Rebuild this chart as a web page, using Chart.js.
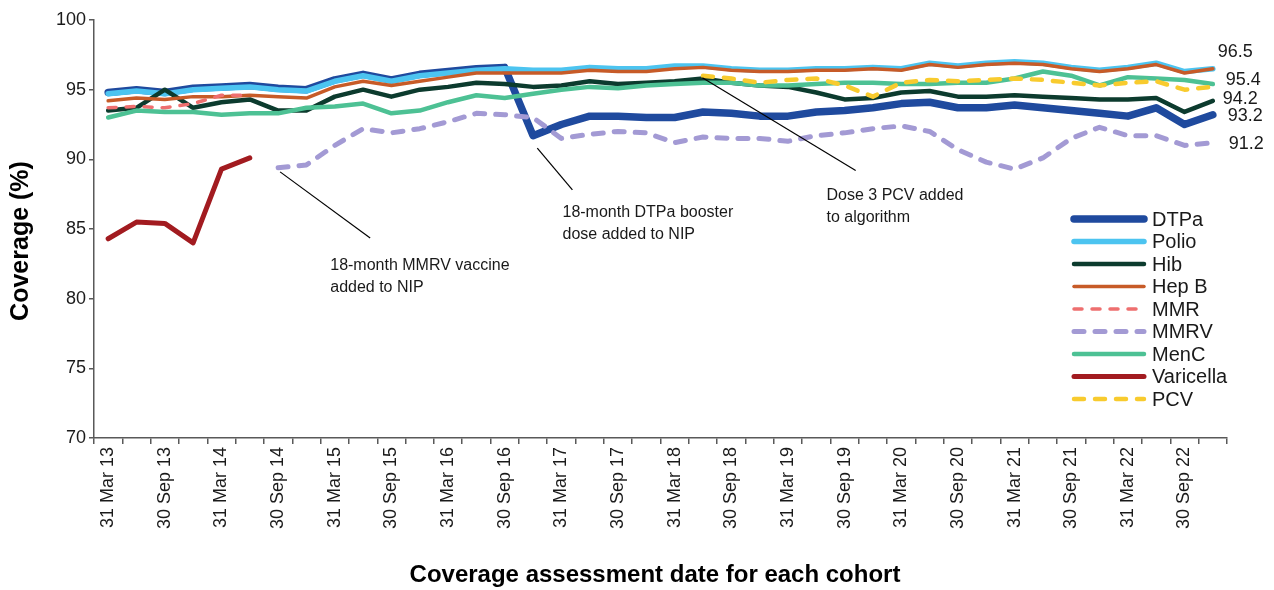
<!DOCTYPE html>
<html>
<head>
<meta charset="utf-8">
<script src="https://cdn.jsdelivr.net/npm/chart.js@4.4.1/dist/chart.umd.min.js"></script>
<style>
    html, body { margin: 0; padding: 0; background: #ffffff; }
    #chart { display: block; }
</style>
</head>
<body>
<canvas id="chart" width="1274" height="590"></canvas>
<script>
const quarters = [
    "31 Mar 13", "30 Jun 13", "30 Sep 13", "31 Dec 13",
    "31 Mar 14", "30 Jun 14", "30 Sep 14", "31 Dec 14",
    "31 Mar 15", "30 Jun 15", "30 Sep 15", "31 Dec 15",
    "31 Mar 16", "30 Jun 16", "30 Sep 16", "31 Dec 16",
    "31 Mar 17", "30 Jun 17", "30 Sep 17", "31 Dec 17",
    "31 Mar 18", "30 Jun 18", "30 Sep 18", "31 Dec 18",
    "31 Mar 19", "30 Jun 19", "30 Sep 19", "31 Dec 19",
    "31 Mar 20", "30 Jun 20", "30 Sep 20", "31 Dec 20",
    "31 Mar 21", "30 Jun 21", "30 Sep 21", "31 Dec 21",
    "31 Mar 22", "30 Jun 22", "30 Sep 22", "31 Dec 22"
];

const dtpa = [94.8, 95.0, 94.8, 95.1, 95.2, 95.3, 95.1, 95.0, 95.7, 96.1,
              95.7, 96.1, 96.3, 96.5, 96.6, 91.7, 92.5, 93.1, 93.1, 93.0,
              93.0, 93.4, 93.3, 93.1, 93.1, 93.4, 93.5, 93.7, 94.0, 94.1,
              93.7, 93.7, 93.9, 93.7, 93.5, 93.3, 93.1, 93.7, 92.5, 93.2];

const polio = [94.7, 94.9, 94.7, 95.0, 95.1, 95.2, 95.0, 94.9, 95.6, 96.0,
               95.6, 96.0, 96.2, 96.4, 96.5, 96.4, 96.4, 96.6, 96.5, 96.5,
               96.7, 96.7, 96.5, 96.4, 96.4, 96.5, 96.5, 96.6, 96.5, 96.9,
               96.7, 96.9, 97.0, 96.9, 96.6, 96.4, 96.6, 96.9, 96.3, 96.5];

const hib = [93.5, 93.7, 95.0, 93.7, 94.1, 94.3, 93.5, 93.5, 94.5, 95.0,
             94.5, 95.0, 95.2, 95.5, 95.4, 95.2, 95.3, 95.6, 95.4, 95.5,
             95.6, 95.8, 95.5, 95.3, 95.2, 94.8, 94.3, 94.4, 94.8, 94.9,
             94.5, 94.5, 94.6, 94.5, 94.4, 94.3, 94.3, 94.4, 93.4, 94.2];

const hepB = [94.2, 94.4, 94.3, 94.5, 94.5, 94.6, 94.5, 94.4, 95.2, 95.6,
              95.3, 95.6, 95.9, 96.2, 96.2, 96.2, 96.2, 96.4, 96.3, 96.3,
              96.5, 96.6, 96.4, 96.3, 96.3, 96.4, 96.4, 96.5, 96.4, 96.8,
              96.6, 96.8, 96.9, 96.8, 96.5, 96.3, 96.5, 96.8, 96.2, 96.5];

const mmr = [93.7, 93.8, 93.7, 94.0, 94.6, 94.6, null, null, null, null,
             null, null, null, null, null, null, null, null, null, null,
             null, null, null, null, null, null, null, null, null, null,
             null, null, null, null, null, null, null, null, null, null];

const mmrv = [null, null, null, null, null, null, 89.4, 89.6, 91.0, 92.2,
              91.9, 92.2, 92.7, 93.3, 93.2, 93.0, 91.5, 91.8, 92.0, 91.9,
              91.2, 91.6, 91.5, 91.5, 91.3, 91.7, 91.9, 92.2, 92.4, 92.0,
              90.7, 89.8, 89.3, 90.1, 91.5, 92.3, 91.7, 91.7, 91.0, 91.2];

const menC = [93.0, 93.5, 93.4, 93.4, 93.2, 93.3, 93.3, 93.7, 93.8, 94.0,
              93.3, 93.5, 94.1, 94.6, 94.4, 94.7, 95.0, 95.2, 95.1, 95.3,
              95.4, 95.5, 95.5, 95.3, 95.3, 95.4, 95.5, 95.5, 95.4, 95.4,
              95.5, 95.5, 95.8, 96.3, 96.0, 95.3, 95.9, 95.8, 95.7, 95.4];

const varicella = [84.3, 85.5, 85.4, 84.0, 89.3, 90.1, null, null, null, null,
                   null, null, null, null, null, null, null, null, null, null,
                   null, null, null, null, null, null, null, null, null, null,
                   null, null, null, null, null, null, null, null, null, null];

const pcv = [null, null, null, null, null, null, null, null, null, null,
             null, null, null, null, null, null, null, null, null, null,
             null, 96.0, 95.8, 95.5, 95.7, 95.8, 95.3, 94.5, 95.5, 95.7,
             95.6, 95.7, 95.8, 95.7, 95.5, 95.3, 95.5, 95.6, 95.0, 95.2];

const yTicks = [70, 75, 80, 85, 90, 95, 100];

const FONT = "'Liberation Sans', Arial, sans-serif";

const series = [
    { label: "DTPa",      data: dtpa,      color: "#1f4a9e", width: 7.5, dash: [] },
    { label: "Polio",     data: polio,     color: "#4cc4f0", width: 5.5, dash: [] },
    { label: "Hib",       data: hib,       color: "#0c3b2e", width: 4.5, dash: [] },
    { label: "Hep B",     data: hepB,      color: "#c75b28", width: 3.5, dash: [] },
    { label: "MMR",       data: mmr,       color: "#ee6f6f", width: 3.5, dash: [8, 10] },
    { label: "MMRV",      data: mmrv,      color: "#a39ad4", width: 5,   dash: [10, 11] },
    { label: "MenC",      data: menC,      color: "#4dc194", width: 4.5, dash: [] },
    { label: "Varicella", data: varicella, color: "#a21b20", width: 5,   dash: [] },
    { label: "PCV",       data: pcv,       color: "#f8cb2e", width: 4.5, dash: [10, 11] }
];

// value labels at the right end of the lines: series index, x/y nudge in px
const endLabels = [
    { series: 3, dx: 5,  dy: -17 },
    { series: 6, dx: 13, dy: -4 },
    { series: 2, dx: 10, dy: -2 },
    { series: 0, dx: 15, dy: 1 },
    { series: 5, dx: 16, dy: 1 }
];

// callouts, placed in axis units (category index, coverage %)
const notes = [
    { lines: ["18-month MMRV vaccine", "added to NIP"],
      from: [6.07, 89.1], to: [9.25, 84.35], text: [7.84, 82.4] },
    { lines: ["18-month DTPa booster", "dose added to NIP"],
      from: [15.15, 90.8], to: [16.39, 87.8], text: [16.04, 86.15] },
    { lines: ["Dose 3 PCV added", "to algorithm"],
      from: [20.98, 95.85], to: [26.39, 89.2], text: [25.36, 87.4] }
];

const notesPlugin = {
    id: "notes",
    afterDatasetsDraw(chart) {
        const { ctx, scales } = chart;
        const x = scales.x;
        const y = scales.y;

        ctx.save();

        // axis titles
        ctx.fillStyle = "#000000";
        ctx.textAlign = "center";
        ctx.textBaseline = "middle";
        ctx.font = "bold 24px " + FONT;
        ctx.fillText("Coverage assessment date for each cohort", 655, 575);
        ctx.save();
        ctx.translate(21, 241);
        ctx.rotate(-Math.PI / 2);
        ctx.font = "bold 25px " + FONT;
        ctx.fillText("Coverage (%)", 0, 0);
        ctx.restore();

        // leader lines and callout text
        ctx.strokeStyle = "#000000";
        ctx.lineWidth = 1.2;
        ctx.fillStyle = "#1a1a1a";
        ctx.font = "16px " + FONT;
        ctx.textAlign = "left";
        notes.forEach(n => {
            ctx.beginPath();
            ctx.moveTo(x.getPixelForValue(n.from[0]), y.getPixelForValue(n.from[1]));
            ctx.lineTo(x.getPixelForValue(n.to[0]), y.getPixelForValue(n.to[1]));
            ctx.stroke();
            const tx = x.getPixelForValue(n.text[0]);
            const ty = y.getPixelForValue(n.text[1]);
            n.lines.forEach((line, i) => ctx.fillText(line, tx, ty + i * 22));
        });

        // last values
        ctx.font = "18px " + FONT;
        const last = quarters.length - 1;
        endLabels.forEach(l => {
            const v = series[l.series].data[last];
            ctx.fillText(v.toFixed(1), x.getPixelForValue(last) + l.dx, y.getPixelForValue(v) + l.dy);
        });

        // legend box inside the plot
        const left = 1074;
        const top = 219;
        const rowH = 22.5;
        ctx.font = "20px " + FONT;
        series.forEach((s, i) => {
            const ry = top + i * rowH;
            ctx.beginPath();
            ctx.strokeStyle = s.color;
            ctx.lineWidth = s.width;
            ctx.lineCap = "round";
            ctx.setLineDash(s.dash);
            ctx.moveTo(left, ry);
            ctx.lineTo(left + 70, ry);
            ctx.stroke();
            ctx.setLineDash([]);
            ctx.fillStyle = "#1a1a1a";
            ctx.fillText(s.label, left + 78, ry + 1);
        });

        ctx.restore();
    }
};

function createChart() {
    const ctx = document.getElementById("chart");

    new Chart(ctx, {
        type: "line",
        data: {
            labels: quarters,
            datasets: series.map((s, i) => ({
                label: s.label,
                data: s.data,
                borderColor: s.color,
                backgroundColor: s.color,
                borderWidth: s.width,
                borderDash: s.dash,
                borderCapStyle: "round",
                borderJoinStyle: "round",
                pointRadius: 0,
                tension: 0,
                spanGaps: false,
                order: series.length - i
            }))
        },
        options: {
            responsive: false,
            devicePixelRatio: 1,
            animation: false,
            layout: { padding: { top: 20, right: 47, left: 0, bottom: 0 } },
            plugins: {
                legend: { display: false },
                tooltip: { enabled: false }
            },
            scales: {
                x: {
                    type: "category",
                    offset: true,
                    afterFit: s => { s.height = 152; },
                    border: { color: "#595959", width: 1.5 },
                    grid: {
                        offset: true,
                        drawOnChartArea: false,
                        color: "#595959",
                        lineWidth: 1.5,
                        tickLength: 6
                    },
                    ticks: {
                        autoSkip: false,
                        minRotation: 90,
                        maxRotation: 90,
                        padding: 3,
                        color: "#1a1a1a",
                        font: { size: 18, family: FONT },
                        callback: function (value, index) {
                            return index % 2 === 0 ? this.getLabelForValue(value) : "";
                        }
                    }
                },
                y: {
                    min: 70,
                    max: 100,
                    afterFit: s => { s.width = 94; },
                    afterBuildTicks: s => { s.ticks = yTicks.map(v => ({ value: v })); },
                    border: { color: "#595959", width: 1.5 },
                    grid: {
                        drawOnChartArea: false,
                        color: "#595959",
                        lineWidth: 1.5,
                        tickLength: 5
                    },
                    ticks: {
                        padding: 3,
                        color: "#1a1a1a",
                        font: { size: 18, family: FONT }
                    }
                }
            }
        },
        plugins: [notesPlugin]
    });
}

createChart();
</script>
</body>
</html>
